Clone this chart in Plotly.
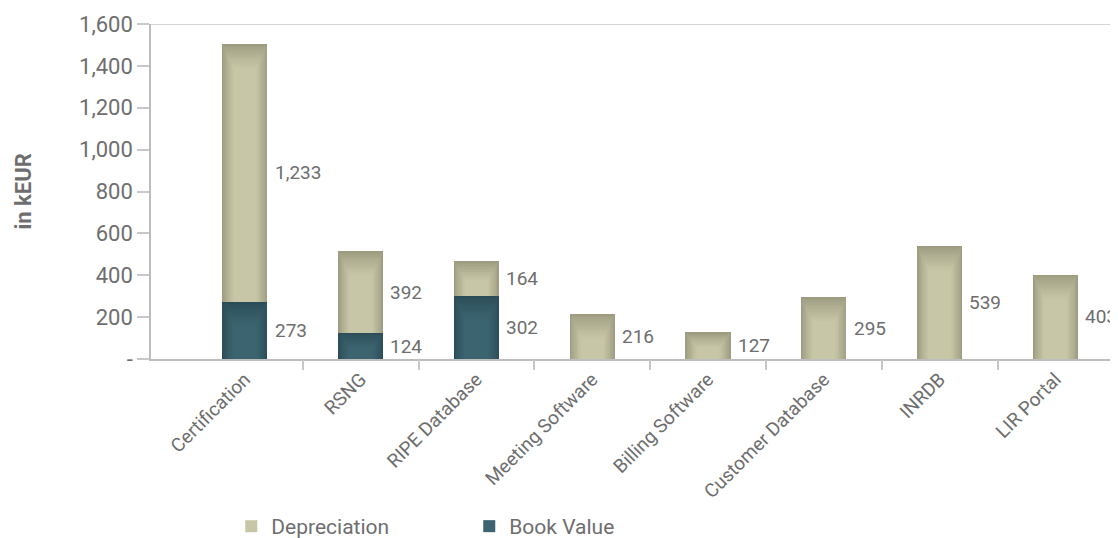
import plotly.graph_objects as go

categories = ["Certification", "RSNG", "RIPE Database", "Meeting Software",
              "Billing Software", "Customer Database", "INRDB", "LIR Portal"]
book_value = [273, 124, 302, 0, 0, 0, 0, 0]
depreciation = [1233, 392, 164, 216, 127, 295, 539, 403]
y_tick_vals = [0, 200, 400, 600, 800, 1000, 1200, 1400, 1600]
y_tick_text = ["-", "200", "400", "600", "800", "1,000", "1,200", "1,400", "1,600"]

FONT = "Roboto, Lato, sans-serif"
GREY = "#6e6e6e"
DEP_EDGE, DEP_CORE = (157, 155, 128), (199, 198, 166)
BV_EDGE, BV_CORE = (43, 77, 87), (59, 100, 112)

x = list(range(len(categories)))
bw = 0.39
PX = 1600 / 335.0          # data units per pixel on the y axis
N_LAYERS = 14


def lerp(c0, c1, t):
    return "rgb(%d,%d,%d)" % tuple(round(a + (b - a) * t) for a, b in zip(c0, c1))


def shaded_series(name, values, bases, edge, core, rank):
    """Stacked segment drawn as nested bars to imitate the soft gradient."""
    for k in range(N_LAYERS):
        t = k / (N_LAYERS - 1)
        frac = 1 - 0.5 * t
        heights = []
        for v in values:
            inset = min(24 * t * PX, 0.55 * v * t) if v > 0 else 0
            heights.append(max(v - inset, 0))
        last = k == N_LAYERS - 1
        fig.add_trace(go.Bar(
            x=x, y=heights, base=bases, width=bw * frac,
            marker_color=lerp(edge, core, t ** 0.8), marker_line_width=0,
            name=name, showlegend=last, legendrank=rank,
            hoverinfo="skip" if not last else None))


fig = go.Figure()
shaded_series("Book Value", book_value, [0] * len(x), BV_EDGE, BV_CORE, 2)
shaded_series("Depreciation", depreciation, book_value, DEP_EDGE, DEP_CORE, 1)

# helper axis for boundary tick marks
fig.add_trace(go.Scatter(x=[0.5], y=[0], xaxis="x2", mode="markers",
                         marker_opacity=0, showlegend=False, hoverinfo="skip"))

for i, (b, d) in enumerate(zip(book_value, depreciation)):
    fig.add_annotation(x=i + bw / 2 + 0.045, y=b + d / 2, text=f"{d:,}", showarrow=False,
                       xanchor="left", yanchor="middle",
                       font=dict(family=FONT, size=19, color=GREY))
    if b > 0:
        fig.add_annotation(x=i + bw / 2 + 0.045, y=b / 2, text=f"{b:,}", showarrow=False,
                           xanchor="left", yanchor="middle",
                           font=dict(family=FONT, size=19, color=GREY))

fig.add_annotation(x=0, xref="paper", xshift=-128, y=0.5, yref="paper",
                   text="<b>in kEUR</b>", textangle=-90, showarrow=False,
                   xanchor="center", yanchor="middle",
                   font=dict(family=FONT, size=22, color=GREY))

# top line at 1,600
fig.add_shape(type="line", xref="paper", x0=0, x1=1, y0=1600, y1=1600,
              line=dict(color="#d4d4d4", width=2), layer="below")

xr = [-0.81, 7.54]
fig.update_layout(
    width=1110, height=530,
    margin=dict(l=143, r=0, t=16, b=179, autoexpand=False),
    paper_bgcolor="white", plot_bgcolor="white",
    barmode="overlay", bargap=0,
    font=dict(family=FONT, color=GREY),
    showlegend=True,
    legend=dict(orientation="h", x=0.083, xanchor="left",
                y=-0.5, yanchor="middle", font=dict(family=FONT, size=21, color=GREY),
                entrywidth=193, entrywidthmode="pixels", itemsizing="constant"),
    xaxis=dict(range=xr, tickvals=x, ticktext=categories, tickangle=-45,
               ticks="", showgrid=False, zeroline=False,
               showline=True, linecolor="#bdbdbd", linewidth=1.5,
               tickfont=dict(family=FONT, size=19, color=GREY)),
    xaxis2=dict(range=xr, overlaying="x", anchor="y", side="bottom",
                tickvals=[0.5, 1.5, 2.5, 3.5, 4.5, 5.5, 6.5], showticklabels=False,
                ticks="outside", ticklen=10, tickcolor="#c8c8c8", tickwidth=1.5,
                showgrid=False, zeroline=False, showline=False),
    yaxis=dict(range=[0, 1600], tickvals=y_tick_vals, ticktext=y_tick_text,
               ticks="outside", ticklen=12, tickcolor="#c8c8c8", tickwidth=1.5,
               showgrid=False, zeroline=False, showline=True,
               linecolor="#bdbdbd", linewidth=1.5,
               tickfont=dict(family=FONT, size=22, color=GREY)),
)

fig.write_html("out.html")
